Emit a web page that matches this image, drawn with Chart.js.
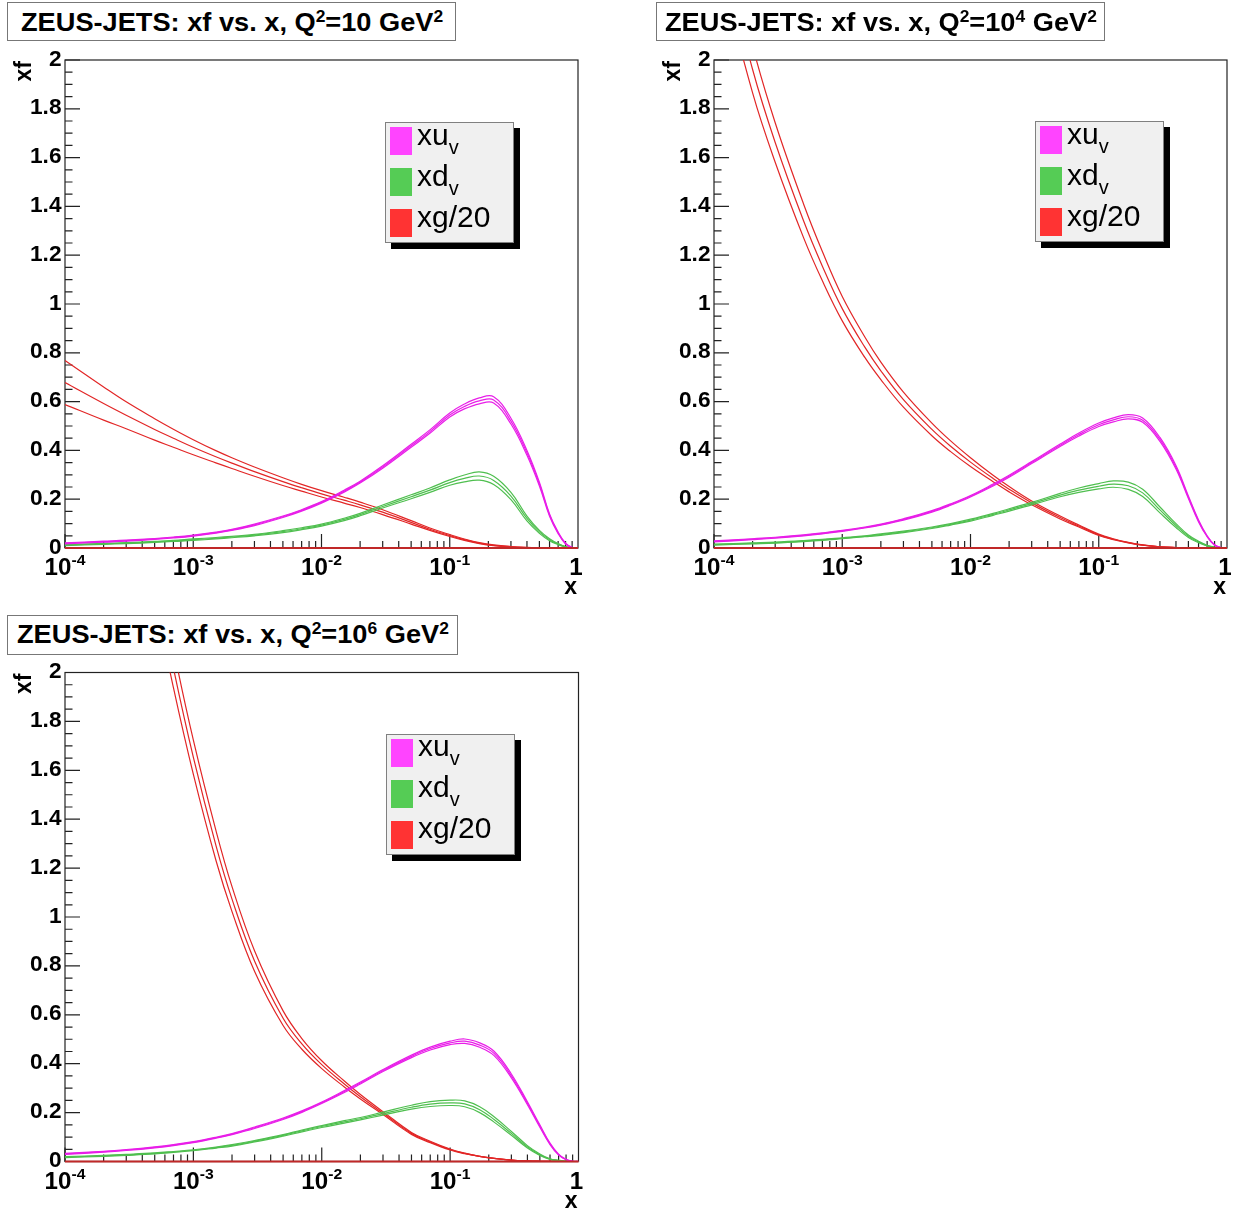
<!DOCTYPE html>
<html>
<head>
<meta charset="utf-8">
<title>ZEUS-JETS: xf vs. x</title>
<script src="https://cdn.jsdelivr.net/npm/chart.js@4.4.1/dist/chart.umd.min.js"></script>
<style>
html,body{margin:0;padding:0;background:#fff;}
body{position:relative;width:1251px;height:1211px;overflow:hidden;font-family:"Liberation Sans",Arial,Helvetica,sans-serif;}
canvas{position:absolute;}
.tbox{position:absolute;box-sizing:border-box;border:1px solid #777;background:#fff;}
.ttxt{position:absolute;white-space:nowrap;font-weight:bold;font-size:25px;line-height:25px;transform-origin:0 0;color:#000;}
.ttxt sup{font-size:16px;line-height:0;vertical-align:9px;}
.leg{position:absolute;box-sizing:border-box;border:1px solid #808080;background:#f0f0f0;box-shadow:6px 6px 0 0 #000;}
.sq{position:absolute;width:22px;height:28px;}
.lt{position:absolute;white-space:nowrap;font-size:30px;line-height:30px;transform-origin:0 0;color:#000;}
.lt sub{font-size:20px;line-height:0;vertical-align:-9px;}
</style>
</head>
<body>
<canvas id="c1" width="620" height="600" style="left:0px;top:20px"></canvas>
<canvas id="c2" width="611" height="600" style="left:640px;top:20px"></canvas>
<canvas id="c3" width="620" height="579" style="left:0px;top:632px"></canvas>
<script>
// ---------- data ----------
const xs = [1e-4, 2e-4, 3e-4, 5e-4, 7e-4, 1e-3, 1.5e-3, 2e-3, 3e-3, 5e-3, 7e-3, 1e-2, 1.5e-2, 2e-2, 3e-2, 5e-2, 0.07, 0.1, 0.13, 0.17, 0.22, 0.3, 0.4, 0.5, 0.6, 0.7, 0.8, 0.9, 1];

// Q2 = 10 GeV2
const xuv10    = [0.019,0.026,0.030,0.037,0.043,0.051,0.063,0.074,0.095,0.128,0.154,0.187,0.233,0.270,0.332,0.419,0.477,0.545,0.580,0.603,0.607,0.520,0.390,0.262,0.135,0.062,0.018,0.002,0];
const xuv10Up  = [0.021,0.028,0.032,0.039,0.045,0.053,0.065,0.076,0.098,0.131,0.157,0.190,0.237,0.274,0.337,0.425,0.484,0.553,0.590,0.615,0.620,0.532,0.400,0.270,0.140,0.065,0.020,0.003,0];
const xuv10Dn  = [0.017,0.024,0.028,0.035,0.041,0.049,0.061,0.072,0.092,0.125,0.151,0.184,0.229,0.266,0.327,0.413,0.470,0.537,0.570,0.591,0.594,0.508,0.380,0.254,0.130,0.059,0.016,0.001,0];
const xdv10    = [0.012,0.017,0.020,0.025,0.029,0.034,0.040,0.045,0.053,0.067,0.079,0.094,0.117,0.137,0.170,0.210,0.237,0.268,0.285,0.295,0.277,0.213,0.121,0.066,0.034,0.016,0.005,0.001,0];
const xdv10Up  = [0.014,0.019,0.022,0.027,0.031,0.037,0.043,0.048,0.056,0.071,0.083,0.098,0.122,0.142,0.176,0.218,0.246,0.279,0.299,0.312,0.294,0.228,0.131,0.072,0.038,0.018,0.006,0.001,0];
const xdv10Dn  = [0.010,0.015,0.018,0.023,0.027,0.031,0.037,0.042,0.050,0.063,0.075,0.090,0.112,0.132,0.164,0.202,0.228,0.257,0.271,0.278,0.260,0.198,0.111,0.060,0.030,0.014,0.004,0.001,0];
const xg10     = [0.678,0.592,0.544,0.486,0.450,0.413,0.374,0.348,0.313,0.272,0.247,0.222,0.196,0.177,0.147,0.105,0.077,0.051,0.034,0.020,0.011,0.005,0.002,0.0008,0.0003,0,0,0,0];
const xg10Up   = [0.768,0.660,0.599,0.530,0.487,0.444,0.399,0.370,0.332,0.288,0.261,0.235,0.208,0.188,0.157,0.112,0.082,0.055,0.037,0.022,0.0125,0.006,0.0025,0.001,0.0004,0,0,0,0];
const xg10Dn   = [0.588,0.524,0.489,0.442,0.413,0.382,0.349,0.326,0.294,0.256,0.233,0.209,0.184,0.166,0.137,0.098,0.072,0.047,0.031,0.018,0.0095,0.004,0.0015,0.0006,0.0002,0,0,0,0];

// Q2 = 10^4 GeV2
const xuv1e4   = [0.027,0.036,0.042,0.052,0.060,0.070,0.084,0.096,0.117,0.150,0.178,0.212,0.258,0.294,0.350,0.421,0.465,0.505,0.525,0.538,0.524,0.445,0.331,0.208,0.111,0.048,0.012,0.002,0];
const xuv1e4Up = [0.029,0.038,0.044,0.054,0.062,0.072,0.086,0.098,0.120,0.153,0.181,0.215,0.262,0.298,0.354,0.426,0.471,0.512,0.533,0.547,0.533,0.453,0.338,0.213,0.115,0.050,0.013,0.002,0];
const xuv1e4Dn = [0.025,0.034,0.040,0.050,0.058,0.068,0.082,0.094,0.114,0.147,0.175,0.209,0.254,0.290,0.346,0.416,0.459,0.498,0.517,0.529,0.515,0.437,0.324,0.203,0.107,0.046,0.011,0.002,0];
const xdv1e4   = [0.014,0.019,0.022,0.028,0.033,0.040,0.048,0.055,0.066,0.083,0.097,0.114,0.138,0.156,0.182,0.217,0.237,0.253,0.262,0.255,0.226,0.156,0.092,0.048,0.025,0.010,0.003,0,0];
const xdv1e4Up = [0.016,0.021,0.024,0.030,0.035,0.042,0.050,0.058,0.069,0.086,0.100,0.118,0.142,0.161,0.187,0.224,0.246,0.264,0.275,0.270,0.241,0.168,0.100,0.053,0.028,0.011,0.004,0,0];
const xdv1e4Dn = [0.012,0.017,0.020,0.026,0.031,0.038,0.046,0.052,0.063,0.080,0.094,0.110,0.134,0.151,0.177,0.210,0.228,0.242,0.249,0.240,0.211,0.144,0.084,0.043,0.022,0.009,0.002,0,0];
const xg1e4    = [2.581,1.961,1.662,1.340,1.155,0.981,0.823,0.726,0.608,0.486,0.417,0.352,0.285,0.241,0.185,0.125,0.090,0.054,0.036,0.022,0.012,0.005,0.002,0.0007,0,0,0,0,0];
const xg1e4Up  = [2.695,2.057,1.743,1.409,1.215,1.031,0.865,0.762,0.639,0.512,0.439,0.370,0.298,0.252,0.193,0.131,0.094,0.057,0.038,0.023,0.0125,0.005,0.002,0.0007,0,0,0,0,0];
const xg1e4Dn  = [2.467,1.865,1.581,1.271,1.095,0.931,0.781,0.690,0.577,0.460,0.395,0.334,0.272,0.230,0.177,0.119,0.086,0.051,0.034,0.021,0.0115,0.005,0.002,0.0007,0,0,0,0,0];

// Q2 = 10^6 GeV2
const xuv1e6   = [0.031,0.040,0.047,0.058,0.067,0.079,0.097,0.112,0.138,0.175,0.204,0.240,0.286,0.321,0.372,0.430,0.462,0.485,0.492,0.476,0.442,0.350,0.238,0.145,0.072,0.028,0.008,0.001,0];
const xuv1e6Up = [0.033,0.042,0.049,0.060,0.069,0.081,0.099,0.114,0.141,0.178,0.207,0.243,0.290,0.325,0.376,0.435,0.468,0.492,0.501,0.485,0.451,0.358,0.244,0.150,0.075,0.030,0.009,0.001,0];
const xuv1e6Dn = [0.029,0.038,0.045,0.056,0.065,0.077,0.095,0.110,0.135,0.172,0.201,0.237,0.282,0.317,0.368,0.425,0.456,0.478,0.483,0.467,0.433,0.342,0.232,0.140,0.069,0.026,0.007,0.001,0];
const xdv1e6   = [0.018,0.023,0.027,0.033,0.039,0.046,0.057,0.066,0.083,0.107,0.125,0.143,0.162,0.175,0.196,0.222,0.235,0.240,0.236,0.212,0.172,0.115,0.060,0.028,0.010,0.004,0.001,0,0];
const xdv1e6Up = [0.020,0.025,0.029,0.035,0.041,0.048,0.059,0.069,0.086,0.110,0.129,0.147,0.167,0.180,0.202,0.230,0.245,0.251,0.248,0.224,0.183,0.123,0.065,0.031,0.011,0.005,0.001,0,0];
const xdv1e6Dn = [0.016,0.021,0.025,0.031,0.037,0.044,0.055,0.063,0.080,0.104,0.121,0.139,0.157,0.170,0.190,0.214,0.225,0.229,0.224,0.200,0.161,0.107,0.055,0.025,0.009,0.003,0.001,0,0];
const xg1e6    = [5.020,3.726,3.092,2.404,2.017,1.653,1.292,1.073,0.819,0.586,0.481,0.396,0.317,0.265,0.198,0.115,0.080,0.049,0.033,0.021,0.013,0.006,0.0025,0.001,0.0004,0,0,0,0];
const xg1e6Up  = [5.210,3.866,3.207,2.497,2.097,1.723,1.353,1.124,0.861,0.616,0.503,0.412,0.329,0.274,0.204,0.119,0.083,0.051,0.034,0.021,0.013,0.006,0.0025,0.001,0.0004,0,0,0,0];
const xg1e6Dn  = [4.830,3.586,2.977,2.311,1.937,1.583,1.231,1.022,0.777,0.556,0.459,0.380,0.305,0.256,0.192,0.111,0.077,0.047,0.032,0.021,0.013,0.006,0.0025,0.001,0.0004,0,0,0,0];

const baselineX = [1e-4, 1];
const baselineY = [0, 0];

// ---------- tick labels / texts ----------
const yTickValues = [0, 0.2, 0.4, 0.6, 0.8, 1, 1.2, 1.4, 1.6, 1.8, 2];
const yTickLabels = ['0', '0.2', '0.4', '0.6', '0.8', '1', '1.2', '1.4', '1.6', '1.8', '2'];
const xDecades = [1e-4, 1e-3, 1e-2, 1e-1, 1];
const xTickBase = ['10', '10', '10', '10', '1'];
const xTickExp = ['-4', '-3', '-2', '-1', ''];
const yAxisTitle = 'xf';
const xAxisTitle = 'x';
const titleHtml = [
  'ZEUS-JETS: xf vs. x, Q<sup>2</sup>=10 GeV<sup>2</sup>',
  'ZEUS-JETS: xf vs. x, Q<sup>2</sup>=10<sup>4</sup> GeV<sup>2</sup>',
  'ZEUS-JETS: xf vs. x, Q<sup>2</sup>=10<sup>6</sup> GeV<sup>2</sup>'
];
const legendNames = ['xu', 'xd', 'xg/20'];
const legendSubs = ['v', 'v', ''];

// ---------- styles ----------
const colU = '#e81ee8', colD = '#4fbf4f', colG = '#e22626';
const legendColors = ['#ff44ff', '#55cc55', '#ff3333'];
const FONT = '"Liberation Sans", Arial, Helvetica, sans-serif';

function pts(arr) { return xs.map((x, i) => ({x: x, y: arr[i]})); }

function drawStretched(ctx, text, x, y, align, sx) {
  const w = ctx.measureText(text).width * sx;
  let left = x;
  if (align === 'right') left = x - w; else if (align === 'center') left = x - w / 2;
  ctx.save(); ctx.translate(left, y); ctx.scale(sx, 1); ctx.textAlign = 'left'; ctx.fillText(text, 0, 0); ctx.restore();
  return w;
}

const rootAxes = {
  id: 'rootAxes',
  beforeDatasetsDraw(chart) {
    const ctx = chart.ctx, a = chart.chartArea, sx = chart.scales.x, sy = chart.scales.y;
    ctx.save();
    ctx.strokeStyle = '#222'; ctx.lineWidth = 1.2;
    ctx.strokeRect(a.left, a.top, a.right - a.left, a.bottom - a.top);
    ctx.beginPath();
    for (let k = 0; k <= 40; k++) {
      const v = k * 0.05, py = sy.getPixelForValue(v);
      const len = (k % 4 === 0) ? 15 : 7.5;
      ctx.moveTo(a.left, py); ctx.lineTo(a.left + len, py);
    }
    for (let d = 0; d < xDecades.length - 1; d++) {
      for (let m = 1; m <= 9; m++) {
        const px = sx.getPixelForValue(m * xDecades[d]);
        const len = (m === 1) ? 14 : 7;
        ctx.moveTo(px, a.bottom); ctx.lineTo(px, a.bottom - len);
      }
    }
    ctx.stroke();
    ctx.fillStyle = '#000';
    ctx.font = 'bold 22px ' + FONT;
    ctx.textBaseline = 'middle';
    yTickValues.forEach((v, i) => {
      drawStretched(ctx, yTickLabels[i], a.left - 3.5, sy.getPixelForValue(v) - 0.5, 'right', 1.03);
    });
    ctx.textBaseline = 'alphabetic';
    const XS = 1.05;
    xDecades.forEach((v, i) => {
      const px = sx.getPixelForValue(v);
      ctx.font = 'bold 23px ' + FONT;
      const w1 = ctx.measureText(xTickBase[i]).width * XS;
      ctx.font = 'bold 15px ' + FONT;
      const w2 = xTickExp[i] ? ctx.measureText(xTickExp[i]).width * XS : 0;
      let left = px - (w1 + w2) / 2;
      if (!xTickExp[i]) left -= 2;
      ctx.font = 'bold 23px ' + FONT;
      drawStretched(ctx, xTickBase[i], left, a.bottom + 27, 'left', XS);
      if (xTickExp[i]) {
        ctx.font = 'bold 15px ' + FONT;
        drawStretched(ctx, xTickExp[i], left + w1, a.bottom + 17, 'left', XS);
      }
    });
    ctx.font = 'bold 23px ' + FONT;
    ctx.save();
    ctx.translate(a.left - 34, a.top + 1);
    ctx.rotate(-Math.PI / 2);
    drawStretched(ctx, yAxisTitle, 0, 0, 'right', 1.0);
    ctx.restore();
    drawStretched(ctx, xAxisTitle, a.right - 1, a.bottom + 46, 'right', 1.0);
    ctx.restore();
  }
};

function line(data, color, width) {
  return {data: data, borderColor: color, backgroundColor: color, borderWidth: width || 1.2, pointRadius: 0, fill: false,
          cubicInterpolationMode: 'default', tension: 0.4, capBezierPoints: false};
}

function makePanel(id, pad, u, d, g) {
  const datasets = [
    Object.assign(line(baselineX.map((x, i) => ({x: x, y: baselineY[i]})), '#c02828', 2), {clip: false, tension: 0}),
    line(pts(u[0]), colU), line(pts(u[1]), colU), line(pts(u[2]), colU),
    line(pts(d[0]), colD), line(pts(d[1]), colD), line(pts(d[2]), colD),
    line(pts(g[0]), colG), line(pts(g[1]), colG), line(pts(g[2]), colG)
  ];
  new Chart(document.getElementById(id), {
    type: 'line',
    data: {datasets: datasets},
    options: {
      responsive: false, animation: false, events: [],
      layout: {padding: pad},
      plugins: {legend: {display: false}, tooltip: {enabled: false}, title: {display: false}},
      scales: {
        x: {type: 'logarithmic', min: 1e-4, max: 1, display: false},
        y: {type: 'linear', min: 0, max: 2, display: false}
      }
    },
    plugins: [rootAxes]
  });
}

makePanel('c1', {left: 65, top: 40, right: 42, bottom: 72}, [xuv10Up, xuv10, xuv10Dn], [xdv10Up, xdv10, xdv10Dn], [xg10Up, xg10, xg10Dn]);
makePanel('c2', {left: 74, top: 40, right: 24, bottom: 72}, [xuv1e4Up, xuv1e4, xuv1e4Dn], [xdv1e4Up, xdv1e4, xdv1e4Dn], [xg1e4Up, xg1e4, xg1e4Dn]);
makePanel('c3', {left: 65, top: 40.5, right: 41.5, bottom: 49.5}, [xuv1e6Up, xuv1e6, xuv1e6Dn], [xdv1e6Up, xdv1e6, xdv1e6Dn], [xg1e6Up, xg1e6, xg1e6Dn]);

// ---------- titles ----------
const titleBoxes = [
  {l: 7, t: 2, w: 449, h: 39, base: 31},
  {l: 656, t: 2, w: 449, h: 39, base: 31},
  {l: 7, t: 614.5, w: 451, h: 40, base: 643}
];
const tEls = titleBoxes.map((b, i) => {
  const box = document.createElement('div');
  box.className = 'tbox';
  box.style.left = b.l + 'px'; box.style.top = b.t + 'px';
  box.style.width = b.w + 'px'; box.style.height = b.h + 'px';
  const t = document.createElement('div');
  t.className = 'ttxt';
  t.innerHTML = titleHtml[i];
  box.appendChild(t);
  document.body.appendChild(box);
  return t;
});
const tScale = 422 / tEls[0].offsetWidth;
tEls.forEach((t, i) => {
  const b = titleBoxes[i];
  const baseOff = (25 - 1.117 * 25) / 2 + 0.905 * 25;
  t.style.left = (((b.w - 2) - t.offsetWidth * tScale) / 2) + 'px';
  t.style.top = (b.base - b.t - 1 - baseOff) + 'px';
  t.style.transform = 'scaleX(' + tScale + ')';
});

// ---------- legends ----------
const legendBoxes = [{l: 385, t: 122}, {l: 1035, t: 121}, {l: 386, t: 733.5}];
legendBoxes.forEach(b => {
  const box = document.createElement('div');
  box.className = 'leg';
  box.style.left = b.l + 'px'; box.style.top = b.t + 'px';
  box.style.width = '129px'; box.style.height = '121px';
  legendNames.forEach((name, i) => {
    const sq = document.createElement('div');
    sq.className = 'sq';
    sq.style.left = '4px'; sq.style.top = (4 + 41 * i) + 'px';
    sq.style.background = legendColors[i];
    box.appendChild(sq);
    const lt = document.createElement('div');
    lt.className = 'lt';
    lt.innerHTML = name + (legendSubs[i] ? '<sub>' + legendSubs[i] + '</sub>' : '');
    const baseOff = (30 - 1.117 * 30) / 2 + 0.905 * 30;
    lt.style.left = '31px';
    lt.style.top = (22 + 41 * i - baseOff) + 'px';
    box.appendChild(lt);
  });
  document.body.appendChild(box);
});
</script>
</body>
</html>
